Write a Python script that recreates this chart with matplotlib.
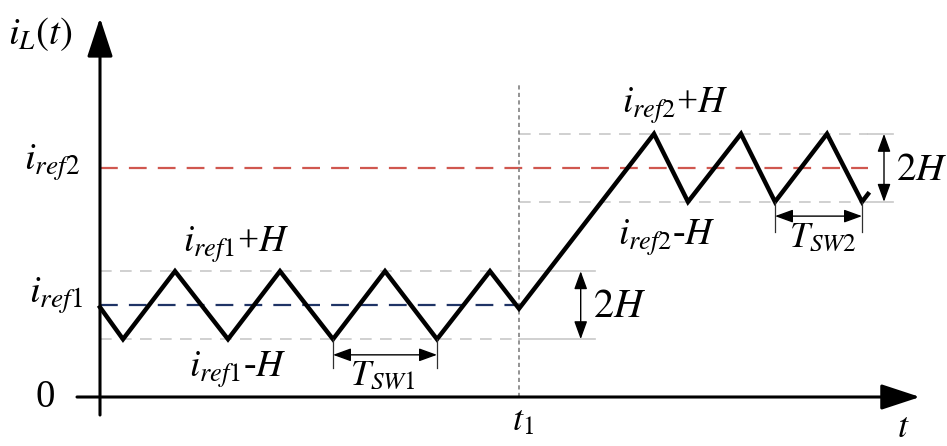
import matplotlib
matplotlib.use("Agg")
import matplotlib.pyplot as plt

plt.rcParams['mathtext.fontset'] = 'stix'
plt.rcParams['font.family'] = ['Liberation Serif', 'DejaVu Serif']

# hysteresis band and reference currents (in units of H)
H = 1.0
i_ref1 = 2.7
i_ref2 = 6.74
t1 = 41.9

# corners of the inductor current ripple
t_corner = [0.0, 2.3, 7.5, 12.8, 18.0, 23.3, 28.5, 33.7, 39.0, 41.9,
            55.4, 58.8, 64.1, 67.5, 72.7, 76.2, 76.8]
i_corner = [2.64, 1.7, 3.7, 1.7, 3.7, 1.7, 3.7, 1.7, 3.7, 2.6,
            7.74, 5.74, 7.74, 5.74, 7.74, 5.74, 5.97]

# switching period markers (valley instants)
tsw1_marks = [23.3, 33.7]
tsw2_marks = [67.5, 76.2]

band1_end = 49.5
band2_end = 79.3
t_end = t_corner[-1]

fig = plt.figure(figsize=(9.47, 4.46), dpi=100)
ax = fig.add_axes([0, 0, 1, 1])
ax.set_xlim(-10, 84.7)
ax.set_ylim(-1.441, 11.676)
ax.axis('off')

grey = '#c8c8c8'

# band limits around i_ref1
for lvl in (i_ref1 + H, i_ref1 - H):
    ax.plot([0, t1], [lvl, lvl], color=grey, lw=1.2, dashes=(7, 5))
    ax.plot([t1, band1_end], [lvl, lvl], color=grey, lw=1.2)

# band limits around i_ref2
for lvl in (i_ref2 + H, i_ref2 - H):
    ax.plot([t1, t_end], [lvl, lvl], color=grey, lw=1.2, dashes=(7, 5))
    ax.plot([t_end, band2_end], [lvl, lvl], color=grey, lw=1.2)

# reference levels
ax.plot([0, t1], [i_ref1, i_ref1], color='#1f3466', lw=1.6, dashes=(8, 5))
ax.plot([0, t_end], [i_ref2, i_ref2], color='#d0574f', lw=1.6, dashes=(8, 5))

# step instant
ax.plot([t1, t1], [0, i_ref2 + H + 1.44], color='#808080', lw=1.2, dashes=(2.5, 2))

# inductor current
ax.plot(t_corner, i_corner, color='black', lw=3.2, solid_joinstyle='miter')

# axes with arrow heads
axis_style = dict(arrowstyle='-|>,head_length=24,head_width=7.9', lw=2.2,
                  color='black', shrinkA=0, shrinkB=0, mutation_scale=1)
ax.annotate('', xy=(0, 11.15), xytext=(0, -0.53), arrowprops=axis_style)
ax.annotate('', xy=(82.0, 0), xytext=(-2.3, 0), arrowprops=axis_style)

# dimension arrows
dim_style = dict(arrowstyle='<|-|>,head_length=11,head_width=4', lw=1.0,
                 color='black', shrinkA=0, shrinkB=0, mutation_scale=1)
ax.annotate('', xy=(48.07, i_ref1 + H), xytext=(48.07, i_ref1 - H), arrowprops=dim_style)
ax.annotate('', xy=(78.4, i_ref2 + H), xytext=(78.4, i_ref2 - H), arrowprops=dim_style)

for tm in tsw1_marks:
    ax.plot([tm, tm], [i_ref1 - H, 0.85], color='#303030', lw=0.9)
ax.annotate('', xy=(tsw1_marks[0], 1.24), xytext=(tsw1_marks[1], 1.24), arrowprops=dim_style)
for tm in tsw2_marks:
    ax.plot([tm, tm], [i_ref2 - H, 4.85], color='#303030', lw=0.9)
ax.annotate('', xy=(tsw2_marks[0], 5.32), xytext=(tsw2_marks[1], 5.32), arrowprops=dim_style)

# labels
ax.text(-9.2, 10.38, r'$i_L(t)$', fontsize=28, ha='left', va='baseline')
ax.text(-2.0, 6.68, r'$i_{ref2}$', fontsize=28, ha='right', va='baseline')
ax.text(-1.7, 2.76, r'$i_{ref1}$', fontsize=28, ha='right', va='baseline')
ax.text(-5.5, -0.29, '0', fontsize=28, ha='center', va='baseline')
ax.text(13.6, 4.26, r'$i_{ref1}$+$H$', fontsize=27, ha='center', va='baseline')
ax.text(13.8, 0.59, r'$i_{ref1}$-$H$', fontsize=27, ha='center', va='baseline')
ax.text(28.3, 0.35, r'$T_{SW1}$', fontsize=26, ha='center', va='baseline')
ax.text(42.3, -0.97, r'$t_1$', fontsize=26, ha='center', va='baseline')
ax.text(57.5, 8.35, r'$i_{ref2}$+$H$', fontsize=27, ha='center', va='baseline')
ax.text(56.7, 4.47, r'$i_{ref2}$-$H$', fontsize=27, ha='center', va='baseline')
ax.text(72.3, 4.41, r'$T_{SW2}$', fontsize=26, ha='center', va='baseline')
ax.text(49.3, 2.35, r'$2H$', fontsize=29, ha='left', va='baseline')
ax.text(79.6, 6.38, r'$2H$', fontsize=28, ha='left', va='baseline')
ax.text(80.3, -1.40, r'$t$', fontsize=26, ha='center', va='bottom')

fig.savefig('out.png', dpi=100)
